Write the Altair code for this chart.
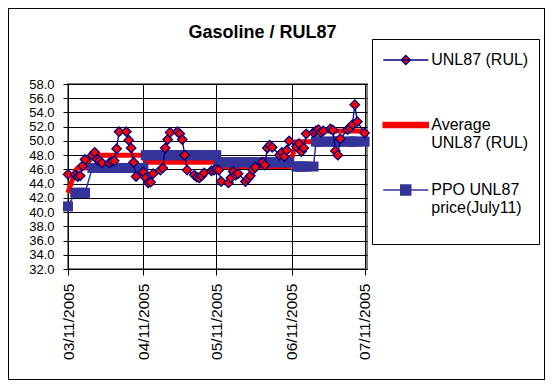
import altair as alt
import pandas as pd

# ---------------- data ----------------
dates = [
    "2005-03-11", "2005-03-14", "2005-03-15", "2005-03-16", "2005-03-17", "2005-03-18",
    "2005-03-21", "2005-03-22", "2005-03-23", "2005-03-24", "2005-03-25",
    "2005-03-28", "2005-03-29", "2005-03-30", "2005-03-31", "2005-04-01",
    "2005-04-04", "2005-04-05", "2005-04-06", "2005-04-07", "2005-04-08",
    "2005-04-11", "2005-04-12", "2005-04-13", "2005-04-14", "2005-04-15",
    "2005-04-18", "2005-04-19", "2005-04-20", "2005-04-21", "2005-04-22",
    "2005-04-25", "2005-04-26", "2005-04-27", "2005-04-28", "2005-04-29",
    "2005-05-02", "2005-05-03", "2005-05-04", "2005-05-05", "2005-05-06",
    "2005-05-09", "2005-05-10", "2005-05-11", "2005-05-12", "2005-05-13",
    "2005-05-16", "2005-05-17", "2005-05-18", "2005-05-19", "2005-05-20",
    "2005-05-23", "2005-05-24", "2005-05-25", "2005-05-26", "2005-05-27",
    "2005-05-30", "2005-05-31", "2005-06-01", "2005-06-02", "2005-06-03",
    "2005-06-06", "2005-06-07", "2005-06-08", "2005-06-09", "2005-06-10",
    "2005-06-13", "2005-06-14", "2005-06-15", "2005-06-16", "2005-06-17",
    "2005-06-20", "2005-06-21", "2005-06-22", "2005-06-23", "2005-06-24",
    "2005-06-27", "2005-06-28", "2005-06-29", "2005-06-30", "2005-07-01",
    "2005-07-04", "2005-07-05", "2005-07-06", "2005-07-07", "2005-07-08",
    "2005-07-11",
]

unl87 = [
    45.3, 45.2, 45.0, 45.1, 46.5, 47.4,
    48.0, 48.4, 47.4, 47.2, 46.9,
    46.9, 47.1, 47.2, 48.9, 51.3,
    51.3, 50.1, 49.0, 47.0, 45.0,
    45.6, 44.8, 44.1, 44.2, 45.4,
    45.9, 46.2, 49.0, 50.2, 51.2,
    51.3, 51.0, 50.2, 48.0, 45.9,
    45.2, 44.9, 44.8, 45.1, 45.5,
    45.8, 45.9, 46.0, 45.9, 44.3,
    44.1, 44.8, 45.7, 45.2, 45.4,
    44.3, 44.7, 45.1, 45.9, 46.3,
    47.0, 46.6, 49.0, 49.4, 49.1,
    48.0, 48.4, 47.8, 48.7, 50.0,
    49.2, 49.6, 48.5, 49.0, 51.0,
    51.2, 51.4, 51.6, 51.2, 51.4,
    51.7, 51.5, 48.6, 48.0, 50.3,
    51.6, 51.8, 52.3, 55.1, 52.7,
    51.1,
]

avg_unl87 = (
    [42.7, 45.8, 46.2, 46.2, 46.2, 46.2]
    + [48.0] * 16
    + [47.0] * 22
    + [46.4] * 22
    + [49.9] * 6
    + [51.4] * 15
)

ppo_unl87 = (
    [40.8]
    + [42.7] * 5
    + [46.2] * 16
    + [48.0] * 22
    + [47.0] * 22
    + [46.4] * 6
    + [49.9] * 15
)

series_names = ["UNL87 (RUL)", "Average UNL87 (RUL)", "PPO UNL87 price(July11)"]
y_ticks = [32, 34, 36, 38, 40, 42, 44, 46, 48, 50, 52, 54, 56, 58]
x_tick_dates = ["2005-03-11", "2005-04-11", "2005-05-11", "2005-06-11", "2005-07-11"]
x_domain_dates = ["2005-03-11", "2005-07-12"]

# ---------------- helpers ----------------
def utc_dt(s):
    y, m, d = (int(p) for p in s.split("-"))
    return alt.DateTime(year=y, month=m, date=d, utc=True)

df = pd.DataFrame({"date": dates, "unl": unl87, "avg": avg_unl87, "ppo": ppo_unl87})
legend_df = pd.DataFrame({
    "series": series_names,
    "date": [dates[0]] * 3,
    "value": [unl87[0], avg_unl87[0], ppo_unl87[0]],
})

FONT = "Liberation Sans"
W, H = 299, 185
PAD_L, PAD_T, PAD_R, PAD_B = 60, 76, 178, 111

x_scale = alt.Scale(type="utc", domain=[utc_dt(d) for d in x_domain_dates])
y_scale = alt.Scale(domain=[32, 58], nice=False, zero=False)

x_axis = alt.Axis(
    values=[utc_dt(d) for d in x_tick_dates],
    labelExpr="utcFormat(datum.value, '%m/%d/%Y')",
    labelAngle=270, labelAlign="right", labelBaseline="middle",
    labelFont=FONT, labelFontSize=15.5, labelColor="black",
    labelPadding=8, tickSize=6, tickColor="black", domainColor="black",
    grid=True, gridColor="black", gridWidth=1, gridOpacity=1,
    title=None, labelOverlap=False, labelFlush=False,
)
y_axis = alt.Axis(
    values=y_ticks, format=".1f",
    labelFont=FONT, labelFontSize=13, labelColor="black",
    labelPadding=9, tickSize=5, tickColor="black", domainColor="black",
    grid=True, gridColor="black", gridWidth=1, gridOpacity=1,
    title=None, labelOverlap=False, labelFlush=False,
)

X = alt.X("date:T", scale=x_scale, axis=x_axis, title=None)


def Y(field):
    return alt.Y(field, type="quantitative", scale=y_scale, axis=y_axis, title=None)


base = alt.Chart(df)

avg_line = base.mark_line(color="#FF0000", strokeWidth=5).encode(x=X, y=Y("avg"))
ppo_line = base.mark_line(color="#333399", strokeWidth=1.5).encode(x=X, y=Y("ppo"))
ppo_pts = base.mark_point(shape="square", filled=True, color="#333399",
                          size=100, opacity=1).encode(x=X, y=Y("ppo"))
unl_line = base.mark_line(color="#000080", strokeWidth=1.3).encode(x=X, y=Y("unl"))
unl_pts = base.mark_point(shape="diamond", filled=True, fill="#FF0000",
                          stroke="#000080", strokeWidth=1.3, size=90,
                          opacity=1).encode(x=X, y=Y("unl"))

# legend symbols: a 45px line with its marker (unit = 10px at symbolSize 400)
sym_paths = [
    "M-2.25,0H2.25M0,-0.45L0.45,0L0,0.45L-0.45,0Z",
    "M-2.25,-0.25H2.25V0.25H-2.25Z",
    "M-2.25,0H2.25M-0.5,-0.5H0.5V0.5H-0.5Z",
]
label_expr = (
    "datum.label == 'UNL87 (RUL)' ? ['UNL87 (RUL)', ''] : "
    "datum.label == 'Average UNL87 (RUL)' ? ['Average', 'UNL87 (RUL)'] : "
    "['PPO UNL87', 'price(July11)', '']"
)
legend = alt.Legend(
    title=None, orient="none", legendX=304, legendY=-45,
    padding=10, strokeColor="black", fillColor="white", cornerRadius=0,
    labelFont=FONT, labelFontSize=16, labelColor="black",
    labelOffset=14.5, symbolOffset=12.75,
    labelLimit=300, rowPadding=28, symbolSize=400, symbolStrokeWidth=1.5,
    symbolOpacity=1, labelBaseline="middle", labelExpr=label_expr,
)
legend_layer = alt.Chart(legend_df).mark_point(opacity=0, filled=True).encode(
    x=X,
    y=Y("value"),
    shape=alt.Shape("series:N", scale=alt.Scale(domain=series_names, range=sym_paths),
                    legend=legend),
    fill=alt.Fill("series:N", scale=alt.Scale(domain=series_names,
                  range=["#FF0000", "#FF0000", "#333399"]), legend=legend),
    stroke=alt.Stroke("series:N", scale=alt.Scale(domain=series_names,
                      range=["#000080", "#FF0000", "#333399"]), legend=legend),
)

frame = alt.Chart(legend_df).mark_rect(fill=None, stroke="black", strokeWidth=1).encode(
    x=alt.value(-PAD_L + 0.5), x2=alt.value(W + PAD_R - 0.5),
    y=alt.value(-PAD_T + 0.5), y2=alt.value(H + PAD_B - 0.5),
)

chart = alt.layer(
    frame, avg_line, ppo_line, ppo_pts, unl_line, unl_pts, legend_layer
).properties(
    width=W, height=H,
    padding={"left": PAD_L, "top": PAD_T, "right": PAD_R, "bottom": PAD_B},
    autosize=alt.AutoSizeParams(type="none"),
    title=alt.Title("Gasoline / RUL87", font=FONT, fontSize=18, fontWeight="bold",
                    color="black", anchor="middle", frame="group", dx=45, dy=50,
                    baseline="alphabetic", offset=2),
    background="white",
).configure_view(
    stroke="#808080", strokeWidth=2
)

chart.save("out.html", embed_options={"renderer": "svg", "actions": False})
